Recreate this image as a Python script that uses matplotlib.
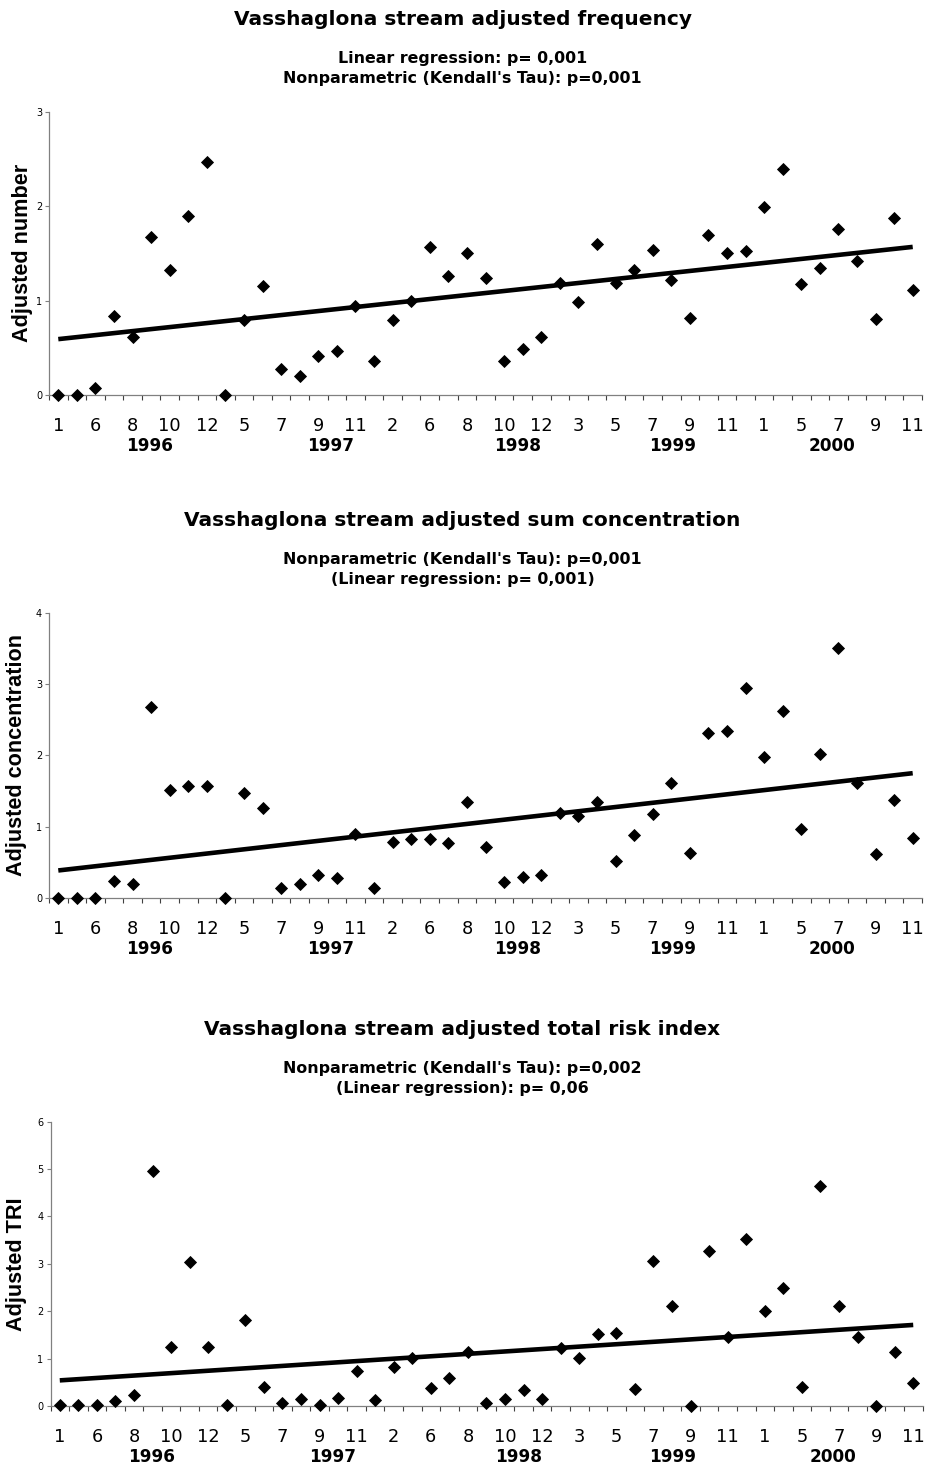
import numpy as np
import matplotlib
matplotlib.use("Agg")
import matplotlib.pyplot as plt
from matplotlib.transforms import blended_transform_factory

# ---------------- data ----------------
month_labels = ["1", "6", "8", "10", "12", "5", "7", "9", "11", "2", "6", "8",
                "10", "12", "3", "5", "7", "9", "11", "1", "5", "7", "9", "11"]
years = ["1996", "1997", "1998", "1999", "2000"]

freq = [0, 0, 0.07, 0.84, 0.61, 1.67, 1.32, 1.90, 2.47, 0,
        0.79, 1.15, 0.28, 0.20, 0.41, 0.47, 0.94, 0.36, 0.79, 1.00,
        1.57, 1.26, 1.50, 1.24, 0.36, 0.49, 0.61, 1.19, 0.99, 1.60,
        1.19, 1.32, 1.54, 1.22, 0.82, 1.69, 1.50, 1.53, 1.99, 2.39,
        1.18, 1.34, 1.76, 1.42, 0.81, 1.87, 1.11]

conc = [0, 0, 0.01, 0.24, 0.20, 2.68, 1.51, 1.57, 1.57, 0,
        1.47, 1.26, 0.14, 0.20, 0.32, 0.29, 0.90, 0.15, 0.79, 0.83,
        0.83, 0.78, 1.35, 0.72, 0.23, 0.30, 0.33, 1.19, 1.15, 1.35,
        0.52, 0.89, 1.18, 1.61, 0.63, 2.31, 2.35, 2.94, 1.98, 2.62,
        0.97, 2.02, 3.50, 1.62, 0.62, 1.38, 0.84]

tri = [0.02, 0.02, 0.02, 0.11, 0.23, 4.97, 1.25, 3.04, 1.25, 0.02,
       1.82, 0.41, 0.06, 0.14, 0.03, 0.16, 0.74, 0.13, 0.83, 1.02,
       0.39, 0.60, 1.13, 0.06, 0.14, 0.34, 0.14, 1.23, 1.02, 1.51,
       1.55, 0.35, 3.07, 2.12, 0.0, 3.28, 1.46, 3.53, 2.00, 2.48,
       0.41, 4.65, 2.11, 1.46, 0.0, 1.13, 0.48]

titles = ["Vasshaglona stream adjusted frequency",
          "Vasshaglona stream adjusted sum concentration",
          "Vasshaglona stream adjusted total risk index"]
subtitles = [("Linear regression: p= 0,001", "Nonparametric (Kendall's Tau): p=0,001"),
             ("Nonparametric (Kendall's Tau): p=0,001", "(Linear regression: p= 0,001)"),
             ("Nonparametric (Kendall's Tau): p=0,002", "(Linear regression): p= 0,06")]
ylabels = ["Adjusted number", "Adjusted concentration", "Adjusted TRI"]
ymaxes = [3, 4, 6]

# ---------------- layout (pixels) ----------------
W, H = 925, 1468
PT = 100 / 72.0  # px per point
panels = [  # (left, right, top, bottom, ylabel_x)
    (49.0, 922.0, 111.7, 395.0, 22.5),
    (49.0, 922.0, 612.7, 898.3, 17.0),
    (50.5, 922.5, 1121.7, 1406.0, 17.0),
]
year_label_pos = [4.94, 14.68, 24.73, 33.05, 41.67]

fig = plt.figure(figsize=(W / 100, H / 100), dpi=100)
fig.patch.set_facecolor("white")

spine_col = "#808080"

for i, (vals, (l, r, t, b, ylx)) in enumerate(zip([freq, conc, tri], panels)):
    ax = fig.add_axes([l / W, 1 - b / H, (r - l) / W, (b - t) / H])
    y = np.array(vals, dtype=float)
    x = np.arange(len(y))

    slope, intercept = np.polyfit(x, y, 1)
    ax.plot([x[0], x[-1]], [intercept + slope * x[0], intercept + slope * x[-1]],
            color="black", lw=3.3, solid_capstyle="butt", zorder=2)
    ax.plot(x, y, linestyle="none", marker="D", ms=6.4, color="black",
            mec="black", mew=0.6, clip_on=False, zorder=3)

    ax.set_xlim(-0.5, len(y) - 0.5)
    ax.set_ylim(0, ymaxes[i])

    for s in ("top", "right"):
        ax.spines[s].set_visible(False)
    for s in ("left", "bottom"):
        ax.spines[s].set_color(spine_col)
        ax.spines[s].set_linewidth(0.9)

    ax.set_yticks(range(ymaxes[i] + 1))
    ax.tick_params(axis="y", length=3.0, width=0.8, color=spine_col,
                   labelsize=7, pad=2)

    ax.set_xticks(x[::2])
    ax.set_xticklabels(month_labels)
    ax.set_xticks(np.arange(-0.5, len(y), 1.0), minor=True)
    ax.tick_params(axis="x", which="major", length=0, labelsize=12.8, pad=15.5)
    ax.tick_params(axis="x", which="minor", length=3.6, width=0.8, color="#404040")

    trans = blended_transform_factory(ax.transData, ax.transAxes)
    for yr, pos in zip(years, year_label_pos):
        ax.annotate(yr, xy=(pos, 0), xycoords=trans,
                    xytext=(0, -51 / PT), textcoords="offset points",
                    ha="center", va="center", fontsize=12.2, fontweight="bold")

    fig.text(ylx / W, 1 - (t + b) / 2 / H, ylabels[i], rotation=90,
             ha="center", va="center", fontsize=15.6, fontweight="bold",
             family="Liberation Sans")

    fig.text(462.5 / W, 1 - (t - 86.7) / H, titles[i], ha="center",
             va="baseline", fontsize=14.5, fontweight="bold")
    fig.text(462.5 / W, 1 - (t - 49) / H, subtitles[i][0], ha="center",
             va="baseline", fontsize=11.4, fontweight="bold")
    fig.text(462.5 / W, 1 - (t - 28.5) / H, subtitles[i][1], ha="center",
             va="baseline", fontsize=11.4, fontweight="bold")

fig.savefig("out.png", dpi=100, facecolor="white")
